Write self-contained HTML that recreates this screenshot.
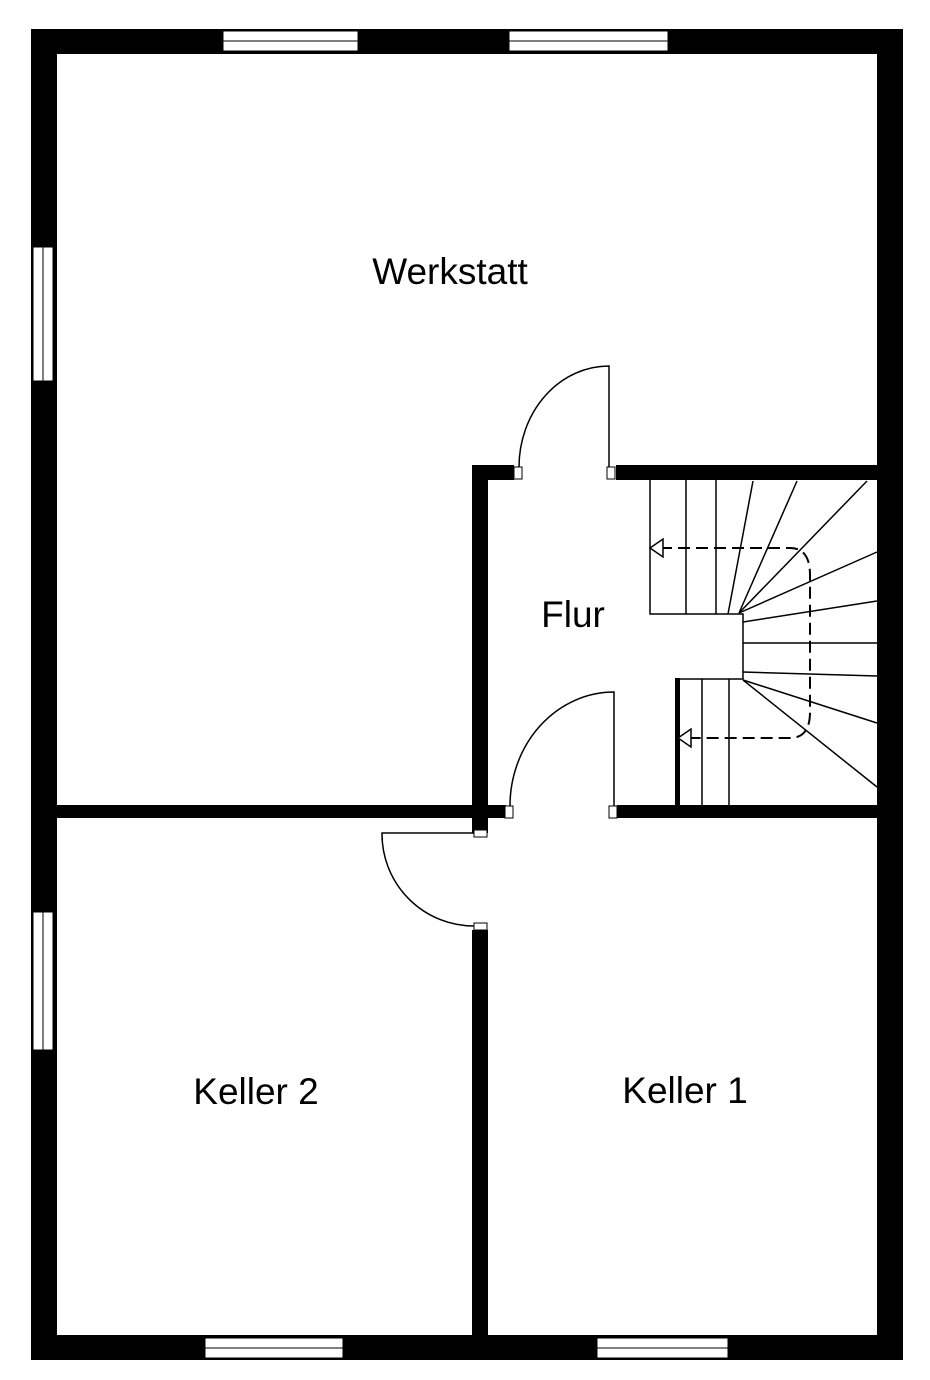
<!DOCTYPE html>
<html><head><meta charset="utf-8"><style>
html,body{margin:0;padding:0;background:#fff;}
svg{display:block;}
text{font-family:"Liberation Sans",sans-serif;font-size:37px;fill:#000;}
</style></head><body>
<svg width="930" height="1380" viewBox="0 0 930 1380" xmlns="http://www.w3.org/2000/svg">
<rect width="930" height="1380" fill="#fff"/>
<g fill="#000">
<rect x="31" y="29" width="872" height="25"/>
<rect x="31" y="1335" width="872" height="25"/>
<rect x="31" y="29" width="26" height="1331"/>
<rect x="877" y="29" width="26" height="1331"/>
<rect x="472" y="465" width="16" height="368"/>
<rect x="472" y="930" width="16" height="405"/>
<rect x="472" y="465" width="42" height="15"/>
<rect x="616" y="465" width="262" height="15"/>
<rect x="31" y="805" width="475" height="13"/>
<rect x="617" y="805" width="261" height="13"/>
<rect x="675" y="678" width="5" height="130"/>
</g>
<g fill="#fff" stroke="#000" stroke-width="1">
<rect x="223" y="31" width="135" height="10"/><rect x="223" y="41" width="135" height="10"/>
<rect x="509" y="31" width="159" height="10"/><rect x="509" y="41" width="159" height="10"/>
<rect x="33" y="247" width="10" height="134"/><rect x="43" y="247" width="10" height="134"/>
<rect x="33" y="912" width="10" height="138"/><rect x="43" y="912" width="10" height="138"/>
<rect x="205" y="1338" width="138" height="10"/><rect x="205" y="1348" width="138" height="10"/>
<rect x="597" y="1338" width="131" height="10"/><rect x="597" y="1348" width="131" height="10"/>
<rect x="514" y="467" width="8" height="12"/>
<rect x="607" y="467" width="8" height="12"/>
<rect x="505" y="806" width="8" height="12"/>
<rect x="609" y="806" width="8" height="12"/>
<rect x="474" y="830" width="13" height="7"/>
<rect x="474" y="923" width="13" height="7"/>
</g>
<g fill="none" stroke="#000" stroke-width="1.5">
<path d="M609 467 V366 A90 101 0 0 0 519 467"/>
<path d="M614 806 V692 A104 114 0 0 0 510 806"/>
<path d="M474 833 H382 A92 92 0 0 0 474 926"/>
</g>
<g fill="none" stroke="#000" stroke-width="1.5">
<path d="M650 480 V614 H743 V679 H678"/>
<line x1="686" y1="480" x2="686" y2="614"/>
<line x1="716" y1="480" x2="716" y2="614"/>
<line x1="728" y1="614" x2="753" y2="481"/>
<line x1="739" y1="613" x2="797" y2="481"/>
<line x1="739" y1="613" x2="867" y2="481"/>
<line x1="739" y1="613" x2="877" y2="552"/>
<line x1="743" y1="622" x2="877" y2="601"/>
<line x1="743" y1="643" x2="877" y2="643"/>
<line x1="743" y1="672" x2="877" y2="676"/>
<line x1="743" y1="680" x2="877" y2="723"/>
<line x1="743" y1="680" x2="877" y2="787"/>
<line x1="702" y1="679" x2="702" y2="805"/>
<line x1="729" y1="679" x2="729" y2="805"/>
<path d="M660 548 H790 Q810 548 810 575 V712 Q810 738 790 738 H685" stroke-dasharray="12 6" stroke-width="2"/>
<path d="M650 548 L663 539 V557 Z" fill="#fff"/>
<path d="M678 738 L691 729 V747 Z" fill="#fff"/>
</g>
<text x="450" y="284" text-anchor="middle">Werkstatt</text>
<text x="573" y="627" text-anchor="middle">Flur</text>
<text x="256" y="1104" text-anchor="middle">Keller 2</text>
<text x="685" y="1103" text-anchor="middle">Keller 1</text>
</svg>
</body></html>
